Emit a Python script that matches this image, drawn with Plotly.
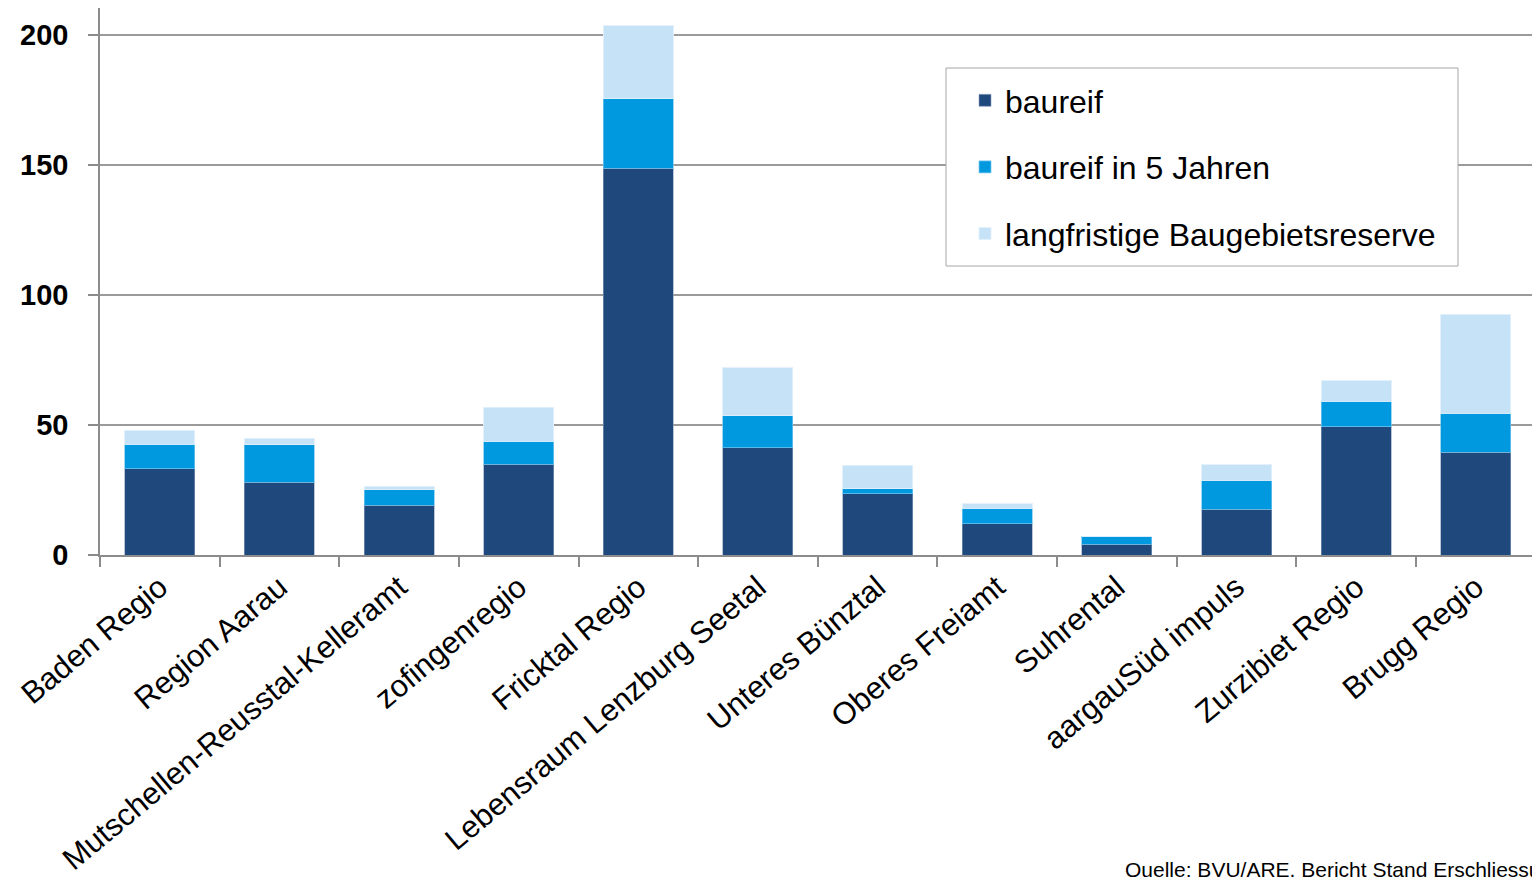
import plotly.graph_objects as go

categories = ["Baden Regio", "Region Aarau", "Mutschellen-Reusstal-Kelleramt", "zofingenregio",
              "Fricktal Regio", "Lebensraum Lenzburg Seetal", "Unteres Bünztal", "Oberes Freiamt",
              "Suhrental", "aargauSüd impuls", "Zurzibiet Regio", "Brugg Regio"]
baureif = [33.2, 27.9, 19.1, 34.9, 148.7, 41.2, 23.6, 12.0, 4.1, 17.6, 49.3, 39.5]
baureif_5 = [9.4, 14.5, 6.0, 8.8, 26.7, 12.3, 1.8, 6.0, 2.9, 11.1, 9.9, 15.1]
langfristig = [5.3, 2.6, 1.4, 13.2, 28.1, 18.5, 9.1, 1.7, 0.0, 6.0, 7.8, 38.1]
series_names = ["baureif", "baureif in 5 Jahren", "langfristige Baugebietsreserve"]
colors = ["#1F497D", "#0098DF", "#C6E2F6"]
outline = ["rgba(140,160,190,0.6)", "rgba(120,200,240,0.7)", "rgba(225,240,252,0.9)"]
yticks = [0, 50, 100, 150, 200]

FONT = "Liberation Sans, Arial, sans-serif"
W, H = 1532, 877
L, R, T, B = 100, 0, 8, 322

def px_x(p):
    return (p - L) / (W - L - R)

def px_y(p):
    return (H - B - p) / (H - B - T)

fig = go.Figure()
for i, (name, vals) in enumerate(zip(series_names, [baureif, baureif_5, langfristig])):
    fig.add_trace(go.Bar(
        x=categories, y=vals, name=name, legendgroup=name,
        marker=dict(color=colors[i], line=dict(color=outline[i], width=1)),
    ))

fig.add_shape(type="rect", xref="paper", yref="paper",
              x0=px_x(946), x1=px_x(1458), y0=px_y(266), y1=px_y(68),
              fillcolor="white", line=dict(color="#A6A6A6", width=1), layer="above")

fig.add_annotation(text="Quelle: BVU/ARE, Bericht Stand Erschliessung", xref="paper", yref="paper",
                   x=px_x(1123), y=px_y(856), xanchor="left", yanchor="top", showarrow=False,
                   font=dict(family=FONT, size=21, color="black"))

fig.update_layout(
    width=W, height=H,
    margin=dict(l=L, r=R, t=T, b=B),
    barmode="stack", bargap=0.415,
    plot_bgcolor="white", paper_bgcolor="white",
    font=dict(family=FONT, color="black"),
    legend=dict(x=px_x(965), y=px_y(73), xanchor="left", yanchor="top",
                font=dict(family=FONT, size=32, color="black"),
                traceorder="grouped", tracegroupgap=22, bgcolor="rgba(0,0,0,0)",
                borderwidth=0),
    showlegend=True,
)
fig.update_xaxes(
    type="category", range=[-0.5, 11.47], tickangle=-40,
    tickfont=dict(family=FONT, size=31, color="black"),
    showline=True, linecolor="#8C8C8C", linewidth=1.5,
    ticks="outside", ticklen=10, tickcolor="#8C8C8C", tickwidth=1.5,
    tickson="boundaries", showgrid=False,
)
fig.update_yaxes(
    range=[0, 210.4], tickvals=yticks,
    tickfont=dict(family=FONT, size=29, color="black", weight="bold"),
    showline=True, linecolor="#8C8C8C", linewidth=1.5,
    ticks="outside", ticklen=10, tickcolor="#8C8C8C", tickwidth=1.5,
    showgrid=True, gridcolor="#9A9A9A", gridwidth=1.5, zeroline=False,
    ticklabelstandoff=14,
)

fig.write_html("out.html")
